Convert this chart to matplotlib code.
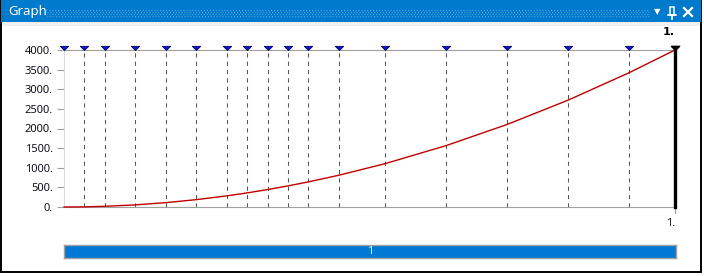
import matplotlib
matplotlib.use("Agg")
import matplotlib.pyplot as plt
from matplotlib.patches import Rectangle

# datos
t_marks = [0.0, 0.0333, 0.0667, 0.1167, 0.1667, 0.2167, 0.2667, 0.3, 0.3333,
           0.3667, 0.4, 0.45, 0.525, 0.625, 0.725, 0.825, 0.925, 1.0]
y_vals = [0, 4, 18, 54, 111, 188, 284, 360, 444, 538, 640, 810, 1102, 1562,
          2102, 2722, 3422, 4000]
y_ticks = [0, 500, 1000, 1500, 2000, 2500, 3000, 3500, 4000]
y_labels = ["0.", "500.", "1000.", "1500.", "2000.", "2500.", "3000.", "3500.", "4000."]
step_label = "1"
time_label = "1."

plt.rcParams["font.family"] = ["Noto Sans", "DejaVu Sans"]

W, H = 704, 276


def fx(x):
    return x / W


def fy(y):
    return 1 - y / H


fig = plt.figure(figsize=(W / 100, H / 100), dpi=100)
fig.patch.set_facecolor("white")

# marco de la ventana
fig.add_artist(Rectangle((fx(1), fy(272)), fx(701) - fx(1), fy(0) - fy(272),
                         transform=fig.transFigure, facecolor="white",
                         edgecolor="black", lw=1.4, zorder=0))
# barra de titulo
fig.add_artist(Rectangle((fx(1), fy(22)), fx(701) - fx(1), fy(0) - fy(22),
                         transform=fig.transFigure, facecolor="#007acc",
                         edgecolor="none", zorder=1))
fig.add_artist(Rectangle((fx(2), fy(26)), fx(700) - fx(2), fy(22) - fy(26),
                         transform=fig.transFigure, facecolor="#f0f0f0",
                         edgecolor="none", zorder=1))
fig.text(fx(8), fy(12), "Graph", color="white", fontsize=9.5,
         va="center", ha="left", zorder=2)
# puntitos de la barra
for i, yy in enumerate([10, 12, 14, 16]):
    off = 0 if i % 2 == 0 else 1
    fig.add_artist(plt.Line2D([fx(46 + off), fx(650)], [fy(yy), fy(yy)],
                              transform=fig.transFigure, color="#5aaae2",
                              lw=0.7, dashes=(1, 2.0), zorder=2))
# iconos
fig.text(fx(657), fy(12), "▼", color="white", fontsize=6, ha="center",
         va="center", family="DejaVu Sans", zorder=3)
fig.add_artist(plt.Line2D([fx(668), fx(676)], [fy(15), fy(15)],
                          transform=fig.transFigure, color="white", lw=1.2, zorder=3))
fig.add_artist(Rectangle((fx(670), fy(15)), fx(4), fy(7) - fy(15),
                         transform=fig.transFigure, facecolor="none",
                         edgecolor="white", lw=1.1, zorder=3))
fig.add_artist(plt.Line2D([fx(672), fx(672)], [fy(15), fy(19)],
                          transform=fig.transFigure, color="white", lw=1.2, zorder=3))
fig.add_artist(plt.Line2D([fx(684), fx(692)], [fy(8), fy(16)],
                          transform=fig.transFigure, color="white", lw=1.6, zorder=3))
fig.add_artist(plt.Line2D([fx(684), fx(692)], [fy(16), fy(8)],
                          transform=fig.transFigure, color="white", lw=1.6, zorder=3))

# ejes
ax = fig.add_axes([fx(64), fy(207), fx(675) - fx(64), fy(50) - fy(207)])
ax.set_facecolor("white")
ax.set_xlim(0, 1)
ax.set_ylim(0, 4000)
ax.spines["right"].set_visible(False)
ax.spines["left"].set_color("#dcdcdc")
ax.spines["top"].set_color("#a0a0a0")
ax.spines["bottom"].set_color("#a0a0a0")
for s in ["left", "top", "bottom"]:
    ax.spines[s].set_linewidth(0.8)

ax.set_yticks(y_ticks)
ax.set_yticklabels(y_labels)
ax.tick_params(axis="y", length=5.2, width=0.8, color="#a0a0a0", pad=3,
               labelsize=8, labelcolor="#101020")
ax.set_xticks([])

# lineas verticales
for t in t_marks[1:-1]:
    ax.axvline(t, color="#555555", lw=0.75, dashes=(4, 4), zorder=2)
ax.plot([1, 1], [0, 4000], color="black", lw=2.4, zorder=4, clip_on=False)

# curva
ax.plot(t_marks, y_vals, color="#c00000", lw=1.0, zorder=3, clip_on=False)

# marcadores
tri = [(-1, 1), (1, 1), (0, 0), (-1, 1)]
ax.plot(t_marks[:-1], [4000] * (len(t_marks) - 1), linestyle="none",
        marker=tri, markersize=6, markerfacecolor="#1010f0",
        markeredgecolor="#000050", markeredgewidth=0.6, clip_on=False, zorder=5)
ax.plot([1], [4000], linestyle="none", marker=tri, markersize=6,
        markerfacecolor="black", markeredgecolor="black", clip_on=False, zorder=6)
ax.text(1, 4000 + 330, time_label, ha="right", va="bottom", fontsize=8,
        fontweight="bold", family="DejaVu Sans", color="black")

# marca de tiempo abajo
ax.plot([1, 1], [0, -160], color="#a0a0a0", lw=0.8, clip_on=False)
ax.text(1, -410, time_label, ha="right", va="center", fontsize=8, color="#101010")

# barra de pasos
bar = fig.add_axes([fx(64), fy(258), fx(676) - fx(64), fy(245) - fy(258)])
bar.barh([0], [1], height=1, color="#0078d4", edgecolor="none")
bar.set_xlim(0, 1)
bar.set_ylim(-0.5, 0.5)
bar.set_xticks([])
bar.set_yticks([])
for s in bar.spines.values():
    s.set_color("#a0a0a0")
    s.set_linewidth(1.0)
bar.text(0.5, 0, step_label, color="white", ha="center", va="center",
         fontsize=8, transform=bar.transData)

fig.savefig("out.png", dpi=100)
